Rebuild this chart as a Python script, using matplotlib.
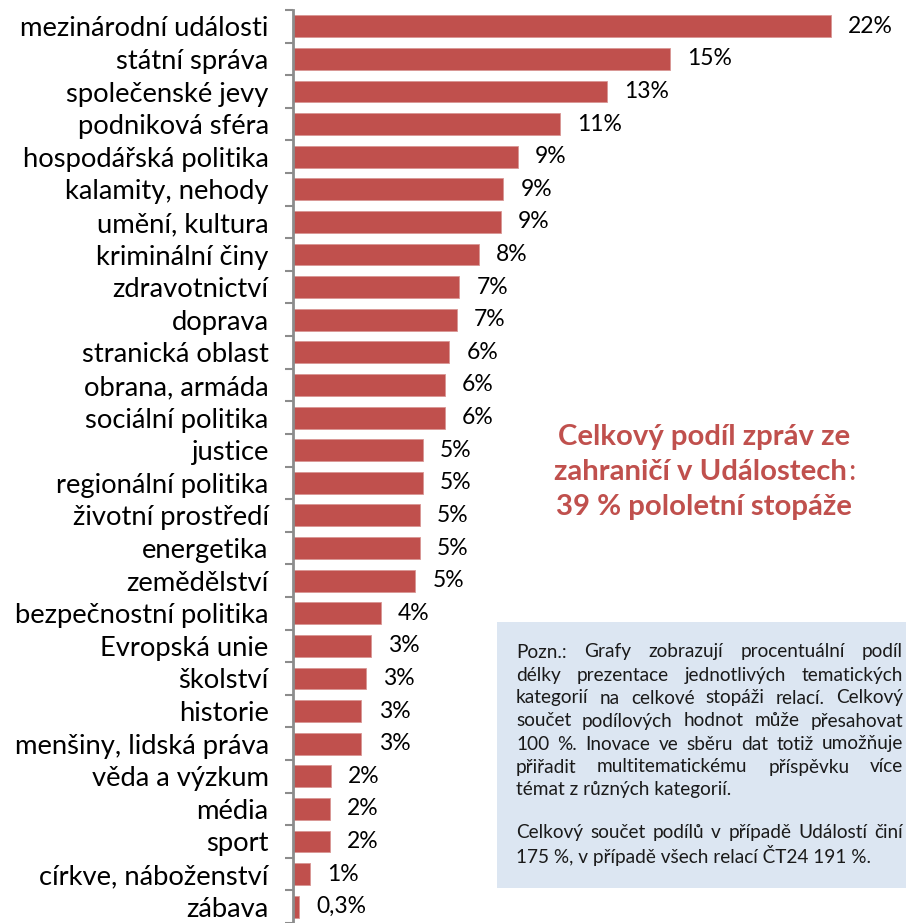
import matplotlib
matplotlib.use('Agg')
import matplotlib.pyplot as plt
from matplotlib.patches import Rectangle
from matplotlib.ticker import FixedLocator

categories = ["mezinárodní události", "státní správa", "společenské jevy", "podniková sféra",
              "hospodářská politika", "kalamity, nehody", "umění, kultura", "kriminální činy",
              "zdravotnictví", "doprava", "stranická oblast", "obrana, armáda",
              "sociální politika", "justice", "regionální politika", "životní prostředí",
              "energetika", "zemědělství", "bezpečnostní politika", "Evropská unie",
              "školství", "historie", "menšiny, lidská práva", "věda a výzkum",
              "média", "sport", "církve, náboženství", "zábava"]
values = [22.0, 15.4, 12.85, 10.9, 9.2, 8.6, 8.5, 7.6, 6.8, 6.7, 6.4, 6.2, 6.2,
          5.3, 5.3, 5.2, 5.2, 5.0, 3.6, 3.2, 3.0, 2.8, 2.8, 1.55, 1.5, 1.5, 0.7, 0.25]
value_labels = ["22%", "15%", "13%", "11%", "9%", "9%", "9%", "8%", "7%", "7%", "6%", "6%", "6%",
                "5%", "5%", "5%", "5%", "5%", "4%", "3%", "3%", "3%", "3%", "2%", "2%", "2%",
                "1%", "0,3%"]

note_lines = [
    ("Pozn.: Grafy zobrazují procentuální podíl", True),
    ("délky prezentace jednotlivých tematických", True),
    ("kategorií na celkové stopáži relací. Celkový", True),
    ("součet podílových hodnot může přesahovat", True),
    ("100 %. Inovace ve sběru dat totiž umožňuje", True),
    ("přiřadit multitematickému příspěvku více", True),
    ("témat z různých kategorií.", False),
    ("", False),
    ("Celkový součet podílů v případě Událostí činí", True),
    ("175 %, v případě všech relací ČT24 191 %.", False),
]
headline = ["Celkový podíl zpráv ze", "zahraničí v Událostech", "39 % pololetní stopáže"]

FONT = ['Lato', 'DejaVu Sans']
plt.rcParams['font.family'] = FONT
BAR = '#C0504D'
W, H = 906, 923

fig = plt.figure(figsize=(W / 100, H / 100), dpi=100)
fig.patch.set_facecolor('white')
renderer = fig.canvas.get_renderer()


def fit_size(text, target_px, weight='normal'):
    t = fig.text(0, 0, text, fontsize=10, fontweight=weight)
    w = t.get_window_extent(renderer).width
    t.remove()
    return 10 * target_px / w


LFS = fit_size("mezinárodní události", 250)
VFS = fit_size("22%", 45)
NFS = fit_size("175 %, v případě všech relací ČT24 191 %.", 355)
HFS = fit_size("Celkový podíl zpráv ze", 293, 'bold')

ax = fig.add_axes([293 / W, 0, (W - 293) / W, (H - 10) / H])
n = len(categories)
ax.barh(range(n), values, height=0.67, color=BAR, edgecolor='#D99694', linewidth=0.6)
ax.set_ylim(n - 0.5, -0.5)
ax.set_xlim(0, 25.07)
for i, (v, lab) in enumerate(zip(values, value_labels)):
    ax.text(v + 0.7, i, lab, va='center', ha='left', fontsize=VFS, color='black')

ax.set_yticks(range(n))
ax.set_yticklabels(categories, fontsize=LFS)
ax.tick_params(axis='y', which='major', length=0, pad=17.5)
ax.yaxis.set_minor_locator(FixedLocator([i + 0.5 for i in range(-1, n)]))
ax.tick_params(axis='y', which='minor', length=6, width=1.5, color='#8C8C8C')
ax.set_xticks([])
for s in ['top', 'right', 'bottom']:
    ax.spines[s].set_visible(False)
ax.spines['left'].set_color('#8C8C8C')
ax.spines['left'].set_linewidth(2)
ax.set_facecolor('none')


def px(x, y):
    return x / W, 1 - y / H


def width_of(t):
    return t.get_window_extent(renderer).width


# Note box
fig.patches.append(Rectangle(px(497, 888), (930 - 497) / W, (888 - 622) / H,
                             transform=fig.transFigure, facecolor='#DCE6F2',
                             edgecolor='none', zorder=0))
NCOL = '#1A1A1A'
y0, dy = 652, 23
x_left, x_right = 516, 903
y = y0
for line, just in note_lines:
    if line:
        if just:
            words = line.split(' ')
            ts = [fig.text(*px(0, y), w, fontsize=NFS, color=NCOL, va='center', ha='left')
                  for w in words]
            ws = [width_of(t) for t in ts]
            gap = (x_right - x_left - sum(ws)) / (len(words) - 1)
            x = x_left
            for t, w in zip(ts, ws):
                t.set_x(x / W)
                x += w + gap
        else:
            fig.text(*px(x_left, y), line, fontsize=NFS, color=NCOL, va='center', ha='left')
        y += dy
    else:
        y += dy * 0.85

# Headline
cx = 704
hy = [437, 472, 507]
fig.text(*px(cx, hy[0]), headline[0], fontsize=HFS, fontweight='bold', color=BAR, ha='center', va='center')
t1 = fig.text(*px(0, hy[1]), headline[1], fontsize=HFS, fontweight='bold', color=BAR, ha='left', va='center')
t2 = fig.text(*px(0, hy[1]), ":", fontsize=HFS, color=BAR, ha='left', va='center')
w1, w2 = width_of(t1), width_of(t2)
start = cx - (w1 + w2) / 2
t1.set_x(start / W)
t2.set_x((start + w1 + 1) / W)
fig.text(*px(cx, hy[2]), headline[2], fontsize=HFS, fontweight='bold', color=BAR, ha='center', va='center')

fig.savefig('out.png', dpi=100)
